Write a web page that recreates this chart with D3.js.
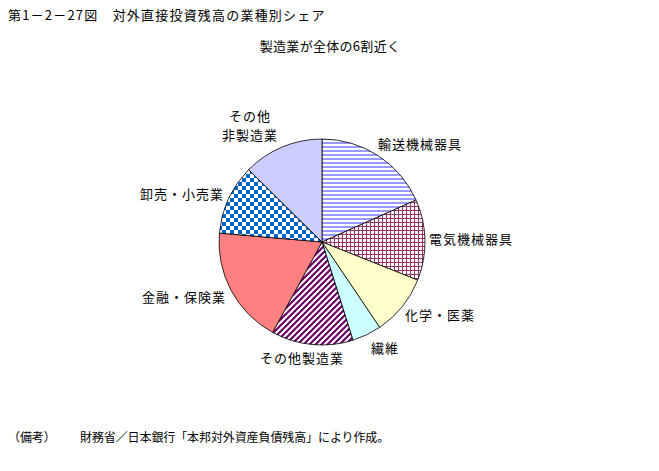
<!DOCTYPE html>
<html><head><meta charset="utf-8">
<script src="https://cdn.jsdelivr.net/npm/d3@7"></script>
<style>
body{margin:0;background:#fff;}
text{font-family:"Noto Sans CJK JP","Noto Sans",sans-serif;fill:#000;}
.lab{font-size:13px;letter-spacing:1px;}
.ttl{font-size:13px;letter-spacing:1.2px;}
.sub{font-size:13px;letter-spacing:0.3px;}
.note{font-size:12px;letter-spacing:-0.1px;}
</style></head>
<body>
<svg id="c" width="659" height="471"></svg>
<script>
const categories = ["輸送機械器具","電気機械器具","化学・医薬","繊維","その他製造業","金融・保険業","卸売・小売業","その他非製造業"];
const shares = [18.3, 12.7, 9.5, 4.6, 12.8, 18.4, 11.0, 12.6];
const labelLines = [["輸送機械器具"],["電気機械器具"],["化学・医薬"],["繊維"],["その他製造業"],["金融・保険業"],["卸売・小売業"],["その他","非製造業"]];
const title = "第1－2－27図　対外直接投資残高の業種別シェア";
const subtitle = "製造業が全体の6割近く";
const noteHead = "（備考）";
const noteBody = "財務省／日本銀行「本邦対外資産負債残高」により作成。";

const svg = d3.select("#c");
const defs = svg.append("defs");
// horizontal stripes
let p = defs.append("pattern").attr("id","p0").attr("patternUnits","userSpaceOnUse").attr("width",4).attr("height",4);
p.append("rect").attr("width",4).attr("height",4).attr("fill","#fff");
p.append("rect").attr("width",4).attr("height",2).attr("fill","#9999ff");
// grid
p = defs.append("pattern").attr("id","p1").attr("patternUnits","userSpaceOnUse").attr("width",4).attr("height",4);
p.append("rect").attr("width",4).attr("height",4).attr("fill","#fff");
p.append("rect").attr("width",4).attr("height",1).attr("fill","#993366");
p.append("rect").attr("width",1).attr("height",4).attr("fill","#993366");
// diagonal
p = defs.append("pattern").attr("id","p4").attr("patternUnits","userSpaceOnUse").attr("width",6).attr("height",6);
p.append("rect").attr("width",6).attr("height",6).attr("fill","#fff");
p.append("path").attr("d","M-1,7 L7,-1 M-4,4 L4,-4 M2,10 L10,2").attr("stroke","#660066").attr("stroke-width",2.2);
// checker
p = defs.append("pattern").attr("id","p6").attr("patternUnits","userSpaceOnUse").attr("width",8).attr("height",8);
p.append("rect").attr("width",8).attr("height",8).attr("fill","#fff");
p.append("rect").attr("width",4).attr("height",4).attr("fill","#0066cc");
p.append("rect").attr("x",4).attr("y",4).attr("width",4).attr("height",4).attr("fill","#0066cc");

const fills = ["url(#p0)","url(#p1)","#ffffcc","#ccffff","url(#p4)","#ff8080","url(#p6)","#ccccff"];

const cx = 322, cy = 242, r = 103;
const pie = d3.pie().sort(null).value(d=>d);
const arc = d3.arc().innerRadius(0).outerRadius(r);
const g = svg.append("g").attr("transform",`translate(${cx},${cy})`);
const arcs = pie(shares);
g.selectAll("path").data(arcs).join("path")
  .attr("d",arc).attr("fill",(d,i)=>fills[i])
  .attr("stroke","#000").attr("stroke-width",0.8);

// label anchor positions (centre of first line)
const labelPos = [[420,144],[471,239],[440,315],[385,348],[302,358],[184,297],[182,194],[250,116]];
const lg = svg.append("g");
labelLines.forEach((lines,i)=>{
  lines.forEach((l,j)=>{
    lg.append("text").attr("class","lab").attr("text-anchor","middle")
      .attr("x",labelPos[i][0]).attr("y",labelPos[i][1] + j*19).attr("dy","0.35em").text(l);
  });
});

svg.append("text").attr("class","ttl").attr("x",8).attr("y",20).text(title);
svg.append("text").attr("class","sub").attr("x",330).attr("y",51).attr("text-anchor","middle").text(subtitle);
svg.append("text").attr("class","note").attr("x",8).attr("y",442).text(noteHead);
svg.append("text").attr("class","note").attr("x",80).attr("y",442).text(noteBody);
</script>
</body></html>
